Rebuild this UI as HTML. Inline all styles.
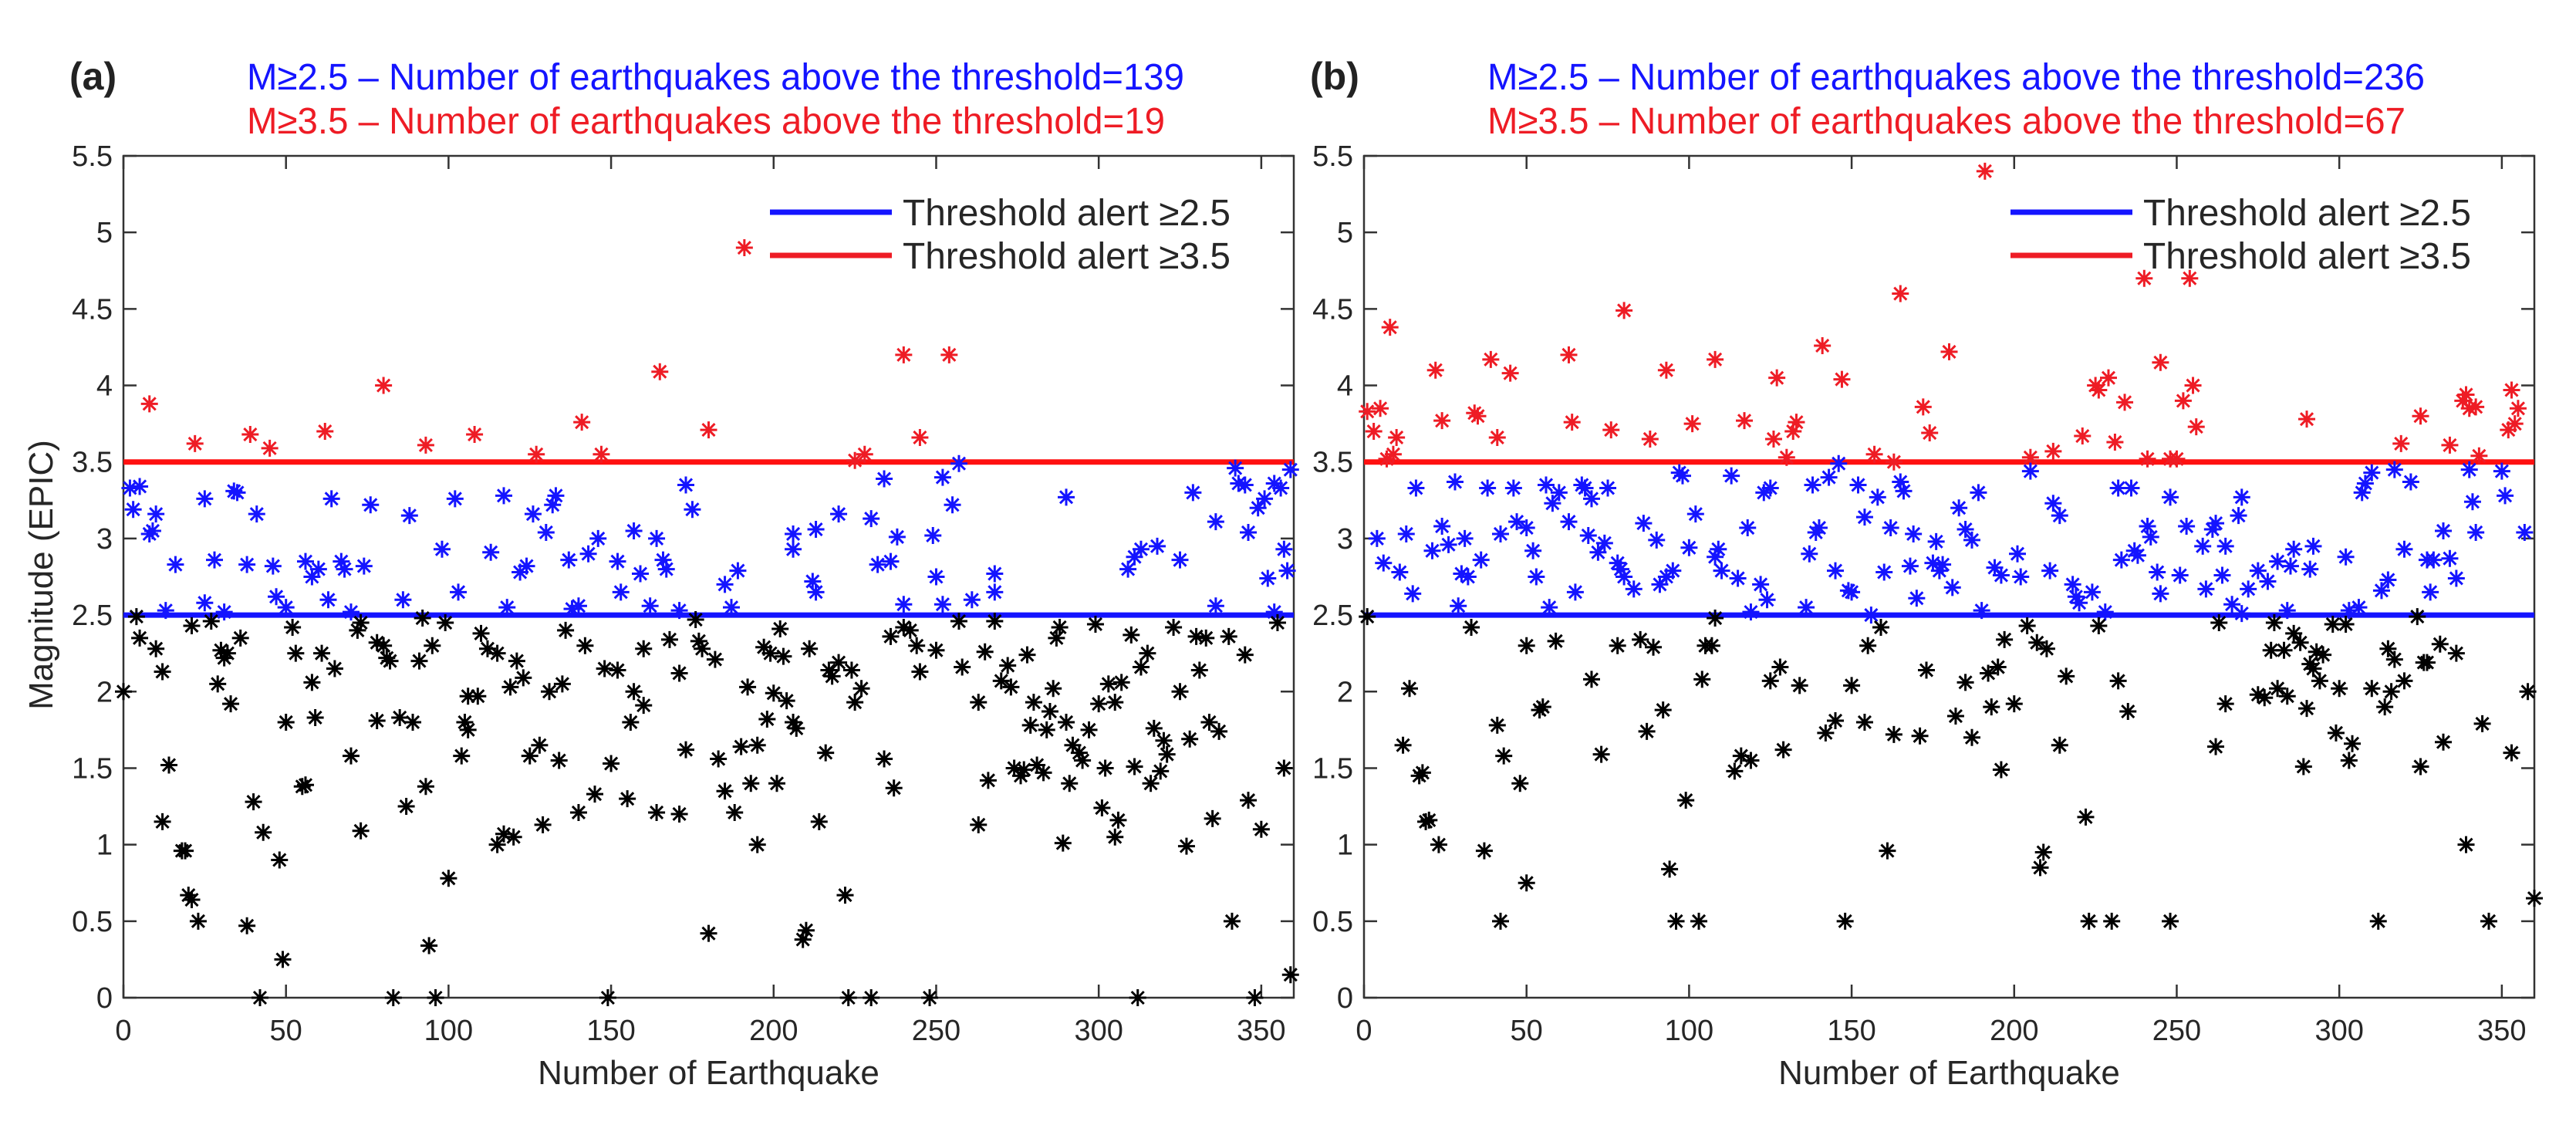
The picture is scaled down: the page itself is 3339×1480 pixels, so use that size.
<!DOCTYPE html>
<html><head><meta charset="utf-8"><style>
html,body{margin:0;padding:0;background:#fff;}
svg{display:block;font-family:"Liberation Sans",Arial,sans-serif;}
</style></head>
<body>
<svg id="fig" width="3339" height="1480" viewBox="0 0 3339 1480" xmlns="http://www.w3.org/2000/svg">
<rect width="3339" height="1480" fill="#fff"/>
</svg>
<script>
const xTicks=[0,50,100,150,200,250,300,350];
const yTicks=[0,0.5,1,1.5,2,2.5,3,3.5,4,4.5,5,5.5];
const thresholds=[2.5,3.5];
const titlesA=["M\u22652.5 \u2013 Number of earthquakes above the threshold=139","M\u22653.5 \u2013 Number of earthquakes above the threshold=19"];
const titlesB=["M\u22652.5 \u2013 Number of earthquakes above the threshold=236","M\u22653.5 \u2013 Number of earthquakes above the threshold=67"];
const panelAPoints=[
[8,3.88],[22,3.62],[39,3.68],[45,3.59],[62,3.70],[80,4.0],[93,3.61],[108,3.68],[127,3.55],[141,3.76],[147,3.55],[165,4.09],[180,3.71],[191,4.9],[225,3.51],[228,3.55],[240,4.2],[245,3.66],[254,4.2],
[2,3.33],[3,3.19],[5,3.34],[8,3.03],[9,3.05],[10,3.16],[13,2.53],[16,2.83],[25,3.26],[25,2.58],[28,2.86],[31,2.52],[34,3.31],[35,3.30],[38,2.83],[41,3.16],[46,2.82],[47,2.62],[50,2.55],[56,2.85],[58,2.75],[60,2.80],[63,2.60],[64,3.26],[67,2.85],[68,2.80],[70,2.52],[74,2.82],[76,3.22],[86,2.60],[88,3.15],[98,2.93],[102,3.26],[103,2.65],[113,2.91],[117,3.28],[118,2.55],[122,2.78],[124,2.82],[126,3.16],[130,3.04],[132,3.22],[133,3.28],[137,2.86],[138,2.54],[140,2.56],[143,2.90],[146,3.00],[152,2.85],[153,2.65],[157,3.05],[159,2.77],[162,2.56],[164,3.00],[166,2.86],[167,2.80],[171,2.53],[173,3.35],[175,3.19],[185,2.70],[187,2.55],[189,2.79],[206,3.03],[206,2.93],[212,2.72],[213,2.65],[213,3.06],[220,3.16],[230,3.13],[232,2.83],[234,3.39],[236,2.85],[238,3.01],[240,2.57],[249,3.02],[250,2.75],[252,2.57],[252,3.40],[255,3.22],[257,3.49],[261,2.60],[268,2.65],[268,2.77],[290,3.27],[309,2.80],[311,2.88],[313,2.93],[318,2.95],[325,2.86],[329,3.30],[336,3.11],[336,2.56],[342,3.46],[343,3.36],[345,3.35],[346,3.04],[349,3.20],[351,3.26],[352,2.74],[354,3.36],[354,2.52],[356,3.33],[357,2.93],[358,2.79],[359,3.45],
[0,2.0],[4,2.49],[5,2.35],[10,2.28],[12,2.13],[14,1.52],[12,1.15],[18,0.96],[19,0.96],[20,0.67],[21,0.64],[23,0.5],[21,2.43],[27,2.46],[29,2.05],[30,2.27],[31,2.22],[32,2.25],[33,1.92],[36,2.35],[38,0.47],[40,1.28],[43,1.08],[42,0.0],[48,0.9],[50,1.8],[49,0.25],[52,2.42],[53,2.25],[55,1.38],[56,1.39],[58,2.06],[59,1.83],[61,2.25],[65,2.15],[70,1.58],[72,2.40],[73,2.45],[73,1.09],[78,2.32],[78,1.81],[80,2.30],[81,2.22],[82,2.20],[83,0.0],[85,1.83],[87,1.25],[89,1.80],[91,2.20],[92,2.48],[93,1.38],[94,0.34],[95,2.30],[96,0.0],[99,2.45],[100,0.78],[104,1.58],[105,1.80],[106,1.75],[106,1.97],[109,1.97],[110,2.38],[112,2.28],[115,2.25],[115,1.0],[117,1.07],[119,2.03],[120,1.05],[121,2.20],[123,2.09],[125,1.58],[128,1.65],[129,1.13],[131,2.00],[134,1.55],[135,2.05],[136,2.40],[140,1.21],[142,2.30],[145,1.33],[148,2.15],[149,0.0],[150,1.53],[152,2.14],[155,1.30],[156,1.80],[157,2.00],[160,1.91],[160,2.28],[164,1.21],[168,2.34],[171,1.20],[171,2.12],[173,1.62],[176,2.47],[177,2.33],[178,2.28],[180,0.42],[182,2.21],[183,1.56],[185,1.35],[188,1.21],[190,1.64],[192,2.03],[193,1.40],[195,1.65],[195,1.0],[197,2.29],[198,1.82],[199,2.25],[200,1.99],[201,1.40],[202,2.41],[203,2.23],[204,1.94],[206,1.80],[207,1.76],[209,0.38],[210,0.44],[211,2.28],[214,1.15],[216,1.60],[217,2.14],[218,2.10],[220,2.19],[222,0.67],[223,0.0],[224,2.14],[225,1.93],[227,2.02],[230,0.0],[234,1.56],[236,2.36],[237,1.37],[240,2.42],[242,2.40],[244,2.30],[245,2.13],[248,0.0],[250,2.27],[257,2.46],[258,2.16],[263,1.93],[263,1.13],[265,2.26],[266,1.42],[268,2.46],[270,2.07],[272,2.17],[273,2.03],[274,1.50],[276,1.45],[277,1.49],[278,2.24],[279,1.78],[280,1.93],[281,1.52],[283,1.47],[284,1.75],[285,1.87],[286,2.02],[287,2.35],[288,2.42],[289,1.01],[290,1.80],[291,1.40],[292,1.65],[294,1.60],[295,1.55],[297,1.75],[299,2.44],[300,1.92],[301,1.24],[302,1.50],[303,2.05],[305,1.05],[306,1.16],[305,1.93],[307,2.06],[310,2.37],[311,1.51],[312,0.0],[313,2.16],[315,2.25],[316,1.40],[317,1.76],[319,1.48],[320,1.68],[321,1.59],[323,2.42],[325,2.0],[327,0.99],[328,1.69],[330,2.36],[331,2.14],[333,2.35],[334,1.80],[335,1.17],[337,1.74],[340,2.36],[341,0.5],[345,2.24],[346,1.29],[348,0.0],[350,1.10],[355,2.45],[357,1.50],[359,0.15]
];
const panelBPoints=[
[1,3.83],[3,3.70],[5,3.85],[7,3.52],[8,4.38],[9,3.55],[10,3.66],[22,4.10],[24,3.77],[34,3.82],[35,3.80],[39,4.17],[41,3.66],[45,4.08],[63,4.20],[64,3.76],[76,3.71],[80,4.49],[88,3.65],[93,4.10],[101,3.75],[108,4.17],[117,3.77],[126,3.65],[127,4.05],[130,3.53],[132,3.70],[133,3.76],[141,4.26],[147,4.04],[157,3.55],[163,3.50],[165,4.60],[172,3.86],[174,3.69],[180,4.22],[191,5.40],[205,3.53],[212,3.57],[221,3.67],[225,4.0],[226,3.97],[229,4.05],[231,3.63],[234,3.89],[240,4.70],[241,3.52],[245,4.15],[248,3.52],[250,3.52],[252,3.90],[254,4.70],[255,4.0],[256,3.73],[290,3.78],[319,3.62],[325,3.80],[334,3.61],[338,3.90],[339,3.94],[340,3.85],[342,3.86],[343,3.54],[352,3.71],[353,3.97],[354,3.75],[355,3.85],
[4,3.0],[6,2.84],[11,2.78],[13,3.03],[15,2.64],[16,3.33],[21,2.92],[24,3.08],[26,2.96],[28,3.37],[29,2.56],[30,2.77],[31,3.0],[32,2.75],[36,2.86],[38,3.33],[42,3.03],[46,3.33],[47,3.11],[50,3.07],[52,2.92],[53,2.75],[56,3.35],[57,2.55],[58,3.23],[60,3.30],[63,3.11],[65,2.65],[67,3.35],[68,3.33],[70,3.26],[69,3.02],[72,2.91],[74,2.97],[75,3.33],[78,2.84],[79,2.80],[80,2.75],[83,2.67],[86,3.10],[90,2.99],[91,2.70],[93,2.75],[95,2.79],[97,3.43],[98,3.41],[100,2.94],[102,3.16],[108,2.88],[109,2.93],[110,2.79],[113,3.41],[115,2.74],[118,3.07],[119,2.52],[122,2.70],[123,3.30],[124,2.60],[125,3.33],[136,2.55],[137,2.90],[138,3.35],[139,3.04],[140,3.07],[143,3.40],[145,2.79],[146,3.49],[149,2.66],[150,2.65],[152,3.35],[154,3.14],[156,2.50],[158,3.27],[160,2.78],[162,3.07],[165,3.37],[166,3.31],[168,2.82],[169,3.03],[170,2.61],[175,2.84],[176,2.98],[177,2.79],[178,2.83],[181,2.68],[183,3.20],[185,3.06],[187,2.99],[189,3.30],[190,2.53],[194,2.81],[196,2.76],[201,2.90],[202,2.75],[205,3.44],[211,2.79],[212,3.23],[214,3.15],[218,2.70],[219,2.62],[220,2.58],[224,2.65],[228,2.52],[232,3.33],[233,2.86],[236,3.33],[237,2.92],[238,2.89],[241,3.08],[242,3.01],[244,2.78],[245,2.64],[248,3.27],[251,2.76],[253,3.08],[258,2.95],[259,2.67],[261,3.06],[262,3.10],[264,2.76],[265,2.95],[267,2.57],[269,3.15],[270,3.27],[270,2.51],[272,2.67],[275,2.79],[278,2.72],[281,2.85],[284,2.53],[285,2.82],[286,2.93],[291,2.80],[292,2.95],[302,2.88],[303,2.53],[306,2.55],[307,3.30],[308,3.36],[310,3.43],[313,2.66],[315,2.73],[317,3.45],[320,2.93],[322,3.37],[327,2.86],[328,2.65],[329,2.86],[332,3.05],[334,2.87],[336,2.74],[340,3.45],[341,3.24],[342,3.04],[350,3.44],[351,3.28],[357,3.04],
[1,2.49],[12,1.65],[14,2.02],[17,1.45],[18,1.47],[19,1.15],[20,1.16],[23,1.0],[33,2.42],[37,0.96],[41,1.78],[42,0.5],[43,1.58],[48,1.40],[50,0.75],[50,2.30],[54,1.88],[55,1.90],[59,2.33],[70,2.08],[73,1.59],[78,2.30],[85,2.34],[87,1.74],[89,2.29],[92,1.88],[94,0.84],[96,0.5],[99,1.29],[103,0.5],[104,2.08],[105,2.30],[107,2.30],[108,2.48],[114,1.48],[116,1.58],[119,1.55],[125,2.07],[128,2.16],[129,1.62],[134,2.04],[142,1.73],[145,1.81],[148,0.5],[150,2.04],[154,1.80],[155,2.30],[159,2.42],[161,0.96],[163,1.72],[171,1.71],[173,2.14],[182,1.84],[185,2.06],[187,1.70],[192,2.12],[193,1.90],[195,2.16],[196,1.49],[197,2.34],[200,1.92],[204,2.43],[207,2.32],[208,0.85],[209,0.95],[210,2.28],[214,1.65],[216,2.10],[222,1.18],[223,0.5],[226,2.43],[230,0.5],[232,2.07],[235,1.87],[248,0.5],[262,1.64],[263,2.45],[265,1.92],[275,1.98],[277,1.96],[279,2.27],[280,2.45],[281,2.02],[283,2.27],[284,1.97],[286,2.38],[288,2.32],[289,1.51],[290,1.89],[291,2.18],[292,2.15],[293,2.26],[294,2.07],[295,2.24],[298,2.44],[299,1.73],[300,2.02],[302,2.44],[303,1.55],[304,1.66],[310,2.02],[312,0.5],[314,1.90],[315,2.28],[316,2.0],[317,2.21],[320,2.07],[324,2.49],[325,1.51],[326,2.19],[327,2.19],[331,2.31],[332,1.67],[336,2.25],[339,1.0],[344,1.79],[346,0.5],[353,1.60],[358,2.0],[360,0.65]
];

const NS="http://www.w3.org/2000/svg";
const svg=document.getElementById('fig');
function mk(tag,attrs,parent){const e=document.createElementNS(NS,tag);for(const k in attrs)e.setAttribute(k,attrs[k]);(parent||svg).appendChild(e);return e;}
function colorFor(v){return v>=3.5?'#ee1c25':(v>=2.5?'#1414ff':'#000');}

function drawPanel(ox,letter,titles,points,id){
  const L=ox,R=ox+1517,T=202,B=1293;
  const xs=v=>L+(v/360)*(R-L);
  const ys=v=>B-(v/5.5)*(B-T);
  const g=mk('g',{});
  
  
  // axes box
  const box=mk('rect',{x:L,y:T,width:R-L,height:B-T,fill:'none',stroke:'#333','stroke-width':2.5},g);
  
  
  // ticks
  xTicks.forEach(t=>{
    const x=xs(t);
    mk('line',{x1:x,y1:B,x2:x,y2:B-17,stroke:'#333','stroke-width':2.5},g);
    mk('line',{x1:x,y1:T,x2:x,y2:T+17,stroke:'#333','stroke-width':2.5},g);
    const tx=mk('text',{x:x,y:1348,'font-size':38,'text-anchor':'middle',fill:'#262626'},g);
    tx.textContent=t;
    
    
  });
  yTicks.forEach(t=>{
    const y=ys(t);
    mk('line',{x1:L,y1:y,x2:L+17,y2:y,stroke:'#333','stroke-width':2.5},g);
    mk('line',{x1:R,y1:y,x2:R-17,y2:y,stroke:'#333','stroke-width':2.5},g);
    const tx=mk('text',{x:L-14,y:y+13,'font-size':38,'text-anchor':'end',fill:'#262626'},g);
    tx.textContent=t;
    
    
  });
  // threshold lines
  thresholds.forEach((th,i)=>{
    const ln=mk('line',{x1:L,y1:ys(th),x2:R,y2:ys(th),stroke:i===0?'#1414ff':'#ff1010','stroke-width':7},g);
    
    
  });
  // points
  points.forEach(p=>{
    const x=xs(p[0]),y=ys(p[1]),c=colorFor(p[1]),s=11,d=8;
    const m=mk('path',{d:`M${x-s},${y}H${x+s}M${x},${y-s}V${y+s}M${x-d},${y-d}L${x+d},${y+d}M${x-d},${y+d}L${x+d},${y-d}`,stroke:c,'stroke-width':3,fill:'none'},g);
    
    
  });
  // legend
  const lg=mk('g',{},g);
  
  
  mk('line',{x1:L+838,y1:275,x2:L+996,y2:275,stroke:'#1414ff','stroke-width':7},lg);
  mk('line',{x1:L+838,y1:331,x2:L+996,y2:331,stroke:'#ee1c25','stroke-width':7},lg);
  const l1=mk('text',{x:L+1010,y:292,'font-size':48,fill:'#262626',textLength:425,lengthAdjust:'spacingAndGlyphs'},lg);
  l1.textContent='Threshold alert \u22652.5';
  const l2=mk('text',{x:L+1010,y:348,'font-size':48,fill:'#262626',textLength:425,lengthAdjust:'spacingAndGlyphs'},lg);
  l2.textContent='Threshold alert \u22653.5';
  // titles
  const t1=mk('text',{x:L+160,y:116,'font-size':48,fill:'#1414ff',textLength:1215,lengthAdjust:'spacingAndGlyphs'},g);
  t1.textContent=titles[0];
  
  
  const t2=mk('text',{x:L+160,y:173,'font-size':48,fill:'#ee1c25',textLength:titles[1].length>52?1190:1190,lengthAdjust:'spacingAndGlyphs'},g);
  t2.textContent=titles[1];
  
  
  const pl=mk('text',{x:L-70,y:116,'font-size':50,'font-weight':'bold',fill:'#222'},g);
  pl.textContent=letter;
  
  
  // axis labels
  const xl=mk('text',{x:(L+R)/2,y:1405,'font-size':44,'text-anchor':'middle',fill:'#262626'},g);
  xl.textContent='Number of Earthquake';
  
  
  if(id==='a'){
    const yl=mk('text',{x:0,y:0,'font-size':44,'text-anchor':'middle',fill:'#262626',transform:`translate(68,745) rotate(-90)`},g);
    yl.textContent='Magnitude (EPIC)';
    
    
  }
}
drawPanel(160,'(a)',titlesA,panelAPoints,'a');
drawPanel(1768,'(b)',titlesB,panelBPoints,'b');
</script>
</body></html>
